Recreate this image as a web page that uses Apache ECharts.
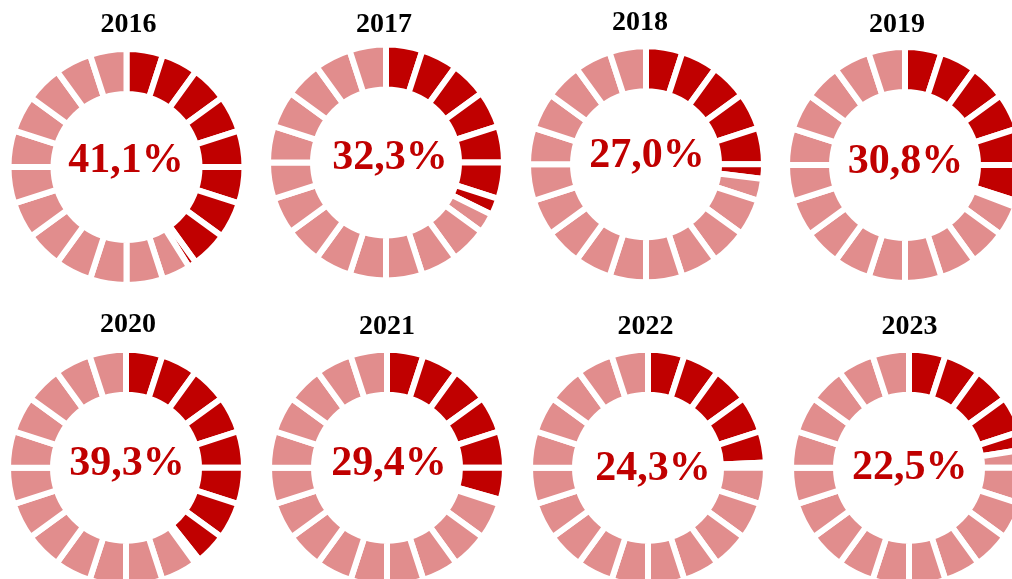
<!DOCTYPE html>
<html>
<head>
<meta charset="utf-8">
<script src="https://cdn.jsdelivr.net/npm/echarts@6/dist/echarts.min.js"></script>
<style>
  html, body { margin: 0; padding: 0; background: #fff; }
  #chart { width: 1012px; height: 579px; }
</style>
</head>
<body>
<div id="chart"></div>
<script>
// data
const years = ['2016', '2017', '2018', '2019', '2020', '2021', '2022', '2023']
const shares = [41.1, 32.3, 27.0, 30.8, 39.3, 29.4, 24.3, 22.5]

// layout (px)
const centers = [
  [126.5, 167], [386, 162.5], [646, 164.3], [905, 165],
  [126, 467.7], [387, 467.7], [648, 467.7], [909, 467.7],
]
const titlePos = [
  [128.5, 25], [384, 24.5], [640, 23], [897, 24.7],
  [128, 325], [387, 326.7], [645.5, 326.7], [909.5, 327],
]
const valuePos = [
  [126, 161], [390, 158], [647, 156], [905.5, 162],
  [127, 464], [389, 464.5], [653, 469.5], [909.7, 468.5],
]

const colors = {
  dark: '#C00000',
  light: '#E18D8D',
  gap: '#ffffff',
  title: '#000000',
}

const SEGMENTS = 20
const GAP = 6

// split the ring into 20 equal segments, cutting the one that holds the value
function buildSlices(v) {
  const step = 100 / SEGMENTS
  const out = []
  for (let i = 0; i < SEGMENTS; i++) {
    const lo = i * step
    const hi = lo + step
    if (v >= hi) {
      out.push({ value: step, itemStyle: { color: colors.dark } })
    } else if (v <= lo) {
      out.push({ value: step, itemStyle: { color: colors.light } })
    } else {
      out.push({ value: v - lo, itemStyle: { color: colors.dark } })
      out.push({ value: hi - v, itemStyle: { color: colors.light } })
    }
  }
  return out
}

const fmt = (v) => v.toFixed(1).replace('.', ',') + '%'

const chart = echarts.init(document.getElementById('chart'), null, { renderer: 'canvas' })

const series = shares.map((v, i) => ({
  type: 'pie',
  center: centers[i],
  radius: [76 - GAP / 2, 115 + GAP / 2],
  startAngle: 90,
  clockwise: true,
  silent: true,
  animation: false,
  label: { show: false },
  labelLine: { show: false },
  emphasis: { disabled: true },
  itemStyle: { borderColor: colors.gap, borderWidth: GAP },
  data: buildSlices(v),
}))

const texts = []
years.forEach((y, i) => {
  texts.push({
    type: 'text',
    x: titlePos[i][0],
    y: titlePos[i][1],
    style: {
      text: y,
      fill: colors.title,
      font: 'bold 28px "Liberation Serif", "Times New Roman", serif',
      align: 'center',
      verticalAlign: 'middle',
    },
  })
  texts.push({
    type: 'text',
    x: valuePos[i][0],
    y: valuePos[i][1],
    style: {
      text: fmt(shares[i]),
      fill: colors.dark,
      font: 'bold 42px "Liberation Serif", "Times New Roman", serif',
      align: 'center',
      verticalAlign: 'middle',
    },
  })
})

chart.setOption({
  animation: false,
  backgroundColor: '#ffffff',
  series,
  graphic: texts,
})
</script>
</body>
</html>
